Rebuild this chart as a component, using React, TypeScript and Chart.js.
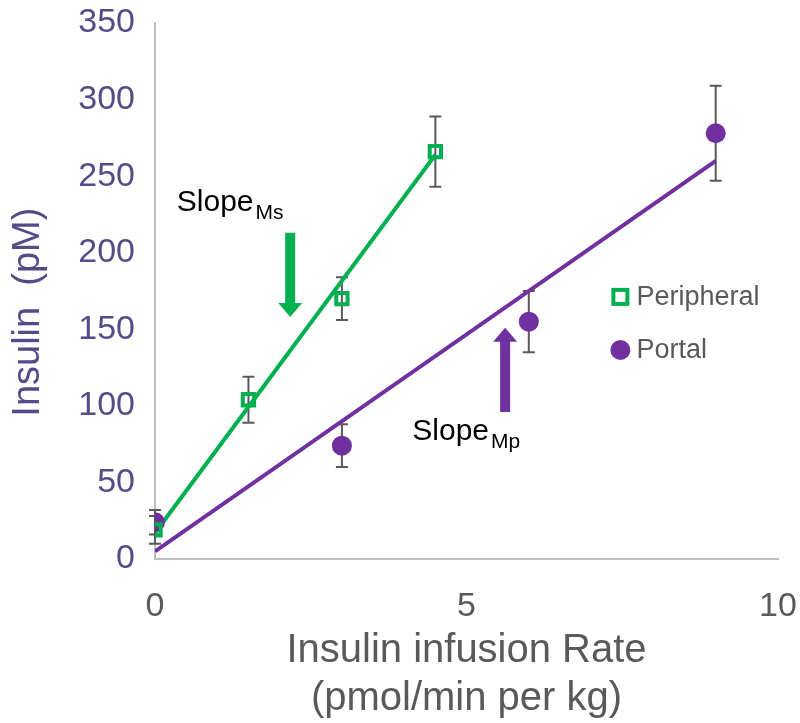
import React, { useEffect, useRef } from "react";
import { Chart, registerables } from "chart.js";

Chart.register(...registerables);

const GREEN = "#00B050";
const PURPLE = "#7030A0";
const AXIS_PURPLE = "#574A88";
const GRAY = "#595959";

// Peripheral (open squares)
const periX = [0, 1.5, 3, 4.5];
const periY = [19, 104, 170, 266];
const periErr = [9, 15, 14, 23];
// Portal (filled circles)
const portX = [0, 3, 6, 9];
const portY = [24, 74, 155, 278];
const portErr = [8, 14, 20, 31];
// Regression lines (endpoints)
const periFitX = [0, 4.5];
const periFitY = [17, 264];
const portFitX = [0, 9];
const portFitY = [5, 260];

const yTicks = [0, 50, 100, 150, 200, 250, 300, 350];
const xTicks = [0, 5, 10];

// Annotations: text anchor and arrow (data coords)
const annotations = [
  { main: "Slope", sub: "Ms", tx: 0.35, ty: 227, ax: 2.17, ayFrom: 213, ayTo: 158, color: GREEN },
  { main: "Slope", sub: "Mp", tx: 4.13, ty: 78, ax: 5.62, ayFrom: 96, ayTo: 151, color: PURPLE },
];

const FONT = "'Liberation Sans', Arial, sans-serif";

export default function App() {
  const ref = useRef<HTMLCanvasElement | null>(null);

  useEffect(() => {
    document.body.style.margin = "0";
    const canvas = ref.current!;
    const pts = (xs: number[], ys: number[]) => xs.map((x, i) => ({ x, y: ys[i] }));

    const errorBars = {
      id: "errorBars",
      beforeDatasetsDraw(chart: any) {
        const { ctx, scales } = chart;
        const xs = scales.x, ys = scales.y;
        ctx.save();
        ctx.strokeStyle = GRAY;
        ctx.lineWidth = 2;
        const draw = (X: number[], Y: number[], E: number[]) => {
          X.forEach((xv, i) => {
            const px = xs.getPixelForValue(xv);
            const top = ys.getPixelForValue(Y[i] + E[i]);
            const bot = ys.getPixelForValue(Y[i] - E[i]);
            ctx.beginPath();
            ctx.moveTo(px, top);
            ctx.lineTo(px, bot);
            ctx.moveTo(px - 6, top);
            ctx.lineTo(px + 6, top);
            ctx.moveTo(px - 6, bot);
            ctx.lineTo(px + 6, bot);
            ctx.stroke();
          });
        };
        draw(periX, periY, periErr);
        draw(portX, portY, portErr);
        ctx.restore();
      },
    };

    const overlay = {
      id: "overlay",
      afterDatasetsDraw(chart: any) {
        const { ctx, scales, chartArea } = chart;
        const xs = scales.x, ys = scales.y;
        ctx.save();
        annotations.forEach((a) => {
          const tx = xs.getPixelForValue(a.tx);
          const ty = ys.getPixelForValue(a.ty);
          ctx.fillStyle = "#000";
          ctx.textBaseline = "alphabetic";
          ctx.textAlign = "left";
          ctx.font = `30px ${FONT}`;
          ctx.fillText(a.main, tx, ty);
          const w = ctx.measureText(a.main).width;
          ctx.font = `21px ${FONT}`;
          ctx.fillText(a.sub, tx + w + 2, ty + 8);
          const ax = xs.getPixelForValue(a.ax);
          const y0 = ys.getPixelForValue(a.ayFrom);
          const y1 = ys.getPixelForValue(a.ayTo);
          const dir = y1 > y0 ? 1 : -1;
          const headLen = 14;
          const headW = 12;
          const shaftW = 5;
          ctx.fillStyle = a.color;
          ctx.beginPath();
          ctx.moveTo(ax - shaftW, y0);
          ctx.lineTo(ax + shaftW, y0);
          ctx.lineTo(ax + shaftW, y1 - dir * headLen);
          ctx.lineTo(ax + headW, y1 - dir * headLen);
          ctx.lineTo(ax, y1);
          ctx.lineTo(ax - headW, y1 - dir * headLen);
          ctx.lineTo(ax - shaftW, y1 - dir * headLen);
          ctx.closePath();
          ctx.fill();
        });
        // legend
        const w = chartArea.right - chartArea.left;
        const h = chartArea.bottom - chartArea.top;
        const lx = chartArea.left + w * 0.747;
        const ly1 = chartArea.top + h * 0.511;
        const ly2 = chartArea.top + h * 0.61;
        ctx.strokeStyle = GREEN;
        ctx.lineWidth = 4;
        ctx.strokeRect(lx - 7, ly1 - 7, 14, 14);
        ctx.fillStyle = PURPLE;
        ctx.beginPath();
        ctx.arc(lx, ly2, 10, 0, Math.PI * 2);
        ctx.fill();
        ctx.fillStyle = GRAY;
        ctx.font = `27px ${FONT}`;
        ctx.textAlign = "left";
        ctx.textBaseline = "middle";
        ctx.fillText("Peripheral", lx + 16, ly1 + 1);
        ctx.fillText("Portal", lx + 16, ly2 + 1);
        ctx.restore();
      },
    };

    const chart = new Chart(canvas, {
      type: "scatter",
      data: {
        datasets: [
          {
            label: "Peripheral",
            data: pts(periX, periY),
            pointStyle: "rect",
            pointRadius: 8,
            borderColor: GREEN,
            backgroundColor: "rgba(255,255,255,0)",
            borderWidth: 4,
            showLine: false,
          },
          {
            label: "Portal",
            data: pts(portX, portY),
            pointStyle: "circle",
            pointRadius: 10,
            borderColor: PURPLE,
            backgroundColor: PURPLE,
            borderWidth: 0,
            showLine: false,
          },
          {
            label: "Peripheral fit",
            type: "line",
            data: pts(periFitX, periFitY),
            borderColor: GREEN,
            borderWidth: 4,
            pointRadius: 0,
            fill: false,
          },
          {
            label: "Portal fit",
            type: "line",
            data: pts(portFitX, portFitY),
            borderColor: PURPLE,
            borderWidth: 4,
            pointRadius: 0,
            fill: false,
          },
        ] as any,
      },
      options: {
        animation: false,
        responsive: false,
        maintainAspectRatio: false,
        layout: { padding: { top: 23, right: 22, left: 0, bottom: 0 } },
        plugins: { legend: { display: false }, tooltip: { enabled: false } },
        scales: {
          x: {
            type: "linear",
            min: 0,
            max: 10,
            afterBuildTicks: (s: any) => {
              s.ticks = xTicks.map((v) => ({ value: v }));
            },
            grid: { display: false, drawTicks: false },
            border: { display: true, color: "#BFBFBF", width: 2 },
            ticks: { color: GRAY, font: { family: FONT, size: 34 }, padding: 27 },
            title: {
              display: true,
              text: ["Insulin infusion Rate", "(pmol/min per kg)"],
              color: GRAY,
              font: { family: FONT, size: 40 },
              padding: { top: 6, bottom: 0 },
            },
            afterFit: (s: any) => {
              s.height = 164;
              s.paddingLeft = 0;
              s.paddingRight = 0;
            },
          },
          y: {
            type: "linear",
            min: 0,
            max: 350,
            afterBuildTicks: (s: any) => {
              s.ticks = yTicks.map((v) => ({ value: v }));
            },
            grid: { display: false, drawTicks: false },
            border: { display: true, color: "#BFBFBF", width: 2 },
            ticks: { color: AXIS_PURPLE, font: { family: FONT, size: 34 }, padding: 20 },
            title: {
              display: true,
              text: "Insulin  (pM)    ",
              color: AXIS_PURPLE,
              font: { family: FONT, size: 38 },
              padding: { top: 6, bottom: 0 },
            },
            afterFit: (s: any) => {
              s.width = 155;
              s.paddingTop = 0;
              s.paddingBottom = 0;
            },
          },
        },
      },
      plugins: [errorBars, overlay],
    } as any);

    return () => chart.destroy();
  }, []);

  return <canvas ref={ref} width={800} height={723} style={{ display: "block" }} />;
}
